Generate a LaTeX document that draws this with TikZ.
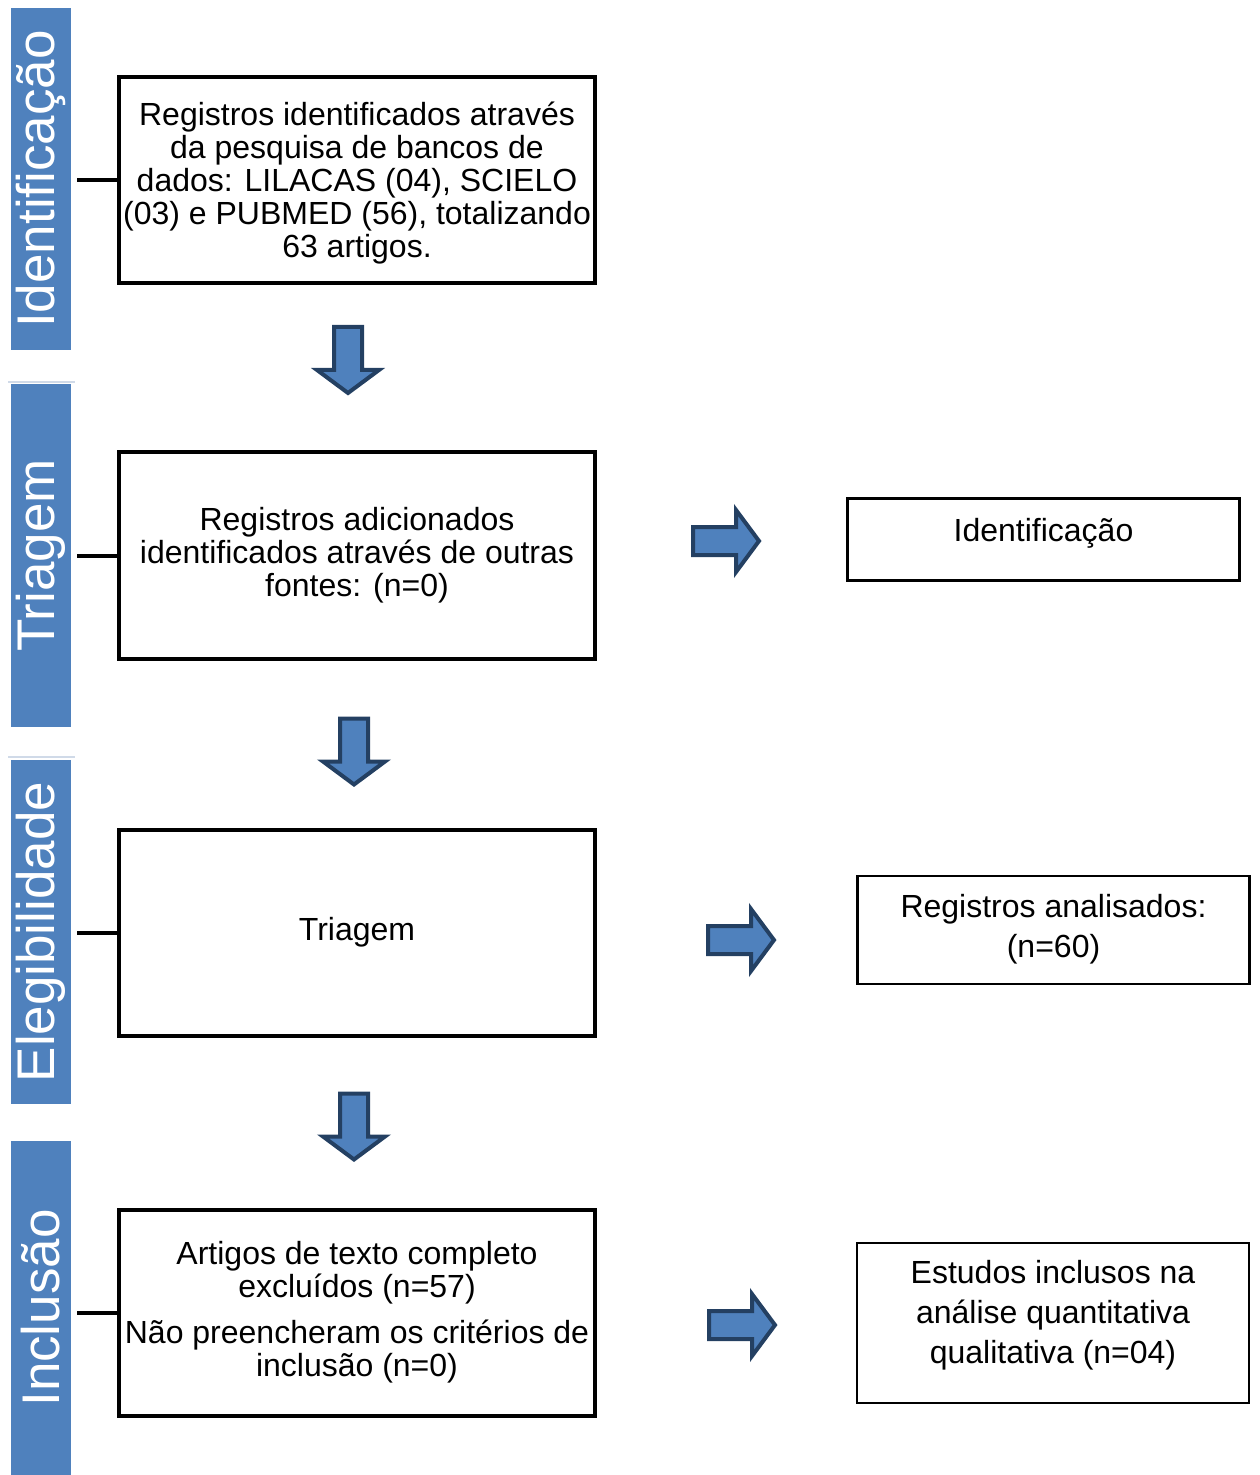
\documentclass[tikz,border=0pt]{standalone}
\usepackage{fontspec}
\setmainfont{Liberation Sans}
\usetikzlibrary{positioning}
\definecolor{barblue}{RGB}{79,129,189}
\definecolor{arrowedge}{RGB}{36,64,98}
\definecolor{faintline}{RGB}{208,218,232}
\tikzset{
  phase/.style={fill=barblue, text=white, rotate=90, inner sep=0pt,
    minimum height=30pt, font=\fontsize{26.5}{28}\selectfont},
  stepbox/.style={draw, line width=2pt, minimum width=238pt, minimum height=103pt,
    align=center, inner sep=0pt, font=\fontsize{16}{16.5}\selectfont},
  outbox/.style={draw, line width=1.3pt, minimum width=196pt, inner sep=0pt},
  outtext/.style={align=center, inner sep=0pt, font=\fontsize{16}{20}\selectfont},
  link/.style={line width=2pt, shorten >=3pt},
  blockarrow/.pic={
    \draw[fill=barblue, draw=arrowedge, line width=2pt, line join=miter]
      (-14,-33) -- (14,-33) -- (14,10) -- (31,10) -- (0,33)
      -- (-31,10) -- (-14,10) -- cycle;
  }
}

\begin{document}
\begin{tikzpicture}[x=0.5pt,y=-0.5pt]
\useasboundingbox (0,0) rectangle (1259,1475);
% phases on the left
\node[phase, minimum width=171pt] (barId) at (41,179) {Identificação};
\node[phase, minimum width=171.5pt] (barTri) at (41,555.5) {Triagem};
\node[phase, minimum width=172pt] (barEle) at (41,932) {Elegibilidade};
\node[phase, minimum width=167pt] (barInc) at (41,1308) {Inclusão};
\draw[faintline, line width=1pt] (8,382) -- (75,382);
\draw[faintline, line width=1pt] (8,757) -- (75,757);

% main column
\node[stepbox, text depth=-1.5pt] (regs) at (357,180) {Registros identificados através\\
  da pesquisa de bancos de\\ dados: LILACAS (04), SCIELO\\
  (03) e PUBMED (56), totalizando\\ 63 artigos.};
\node[stepbox] (extra) at (357,555.5) {Registros adicionados\\
  identificados através de outras\\ fontes: (n=0)};
\node[stepbox] (triag) at (357,932.5) {Triagem};
\node[stepbox] (excl) at (357,1312.5) {Artigos de texto completo\\
  excluídos (n=57)\\[6.5pt] Não preencheram os critérios de\\ inclusão (n=0)};

\foreach \b/\s in {regs/barId, extra/barTri, triag/barEle, excl/barInc}
  \draw[link] (\b.west) -- (\b.west -| \s.south);

% block arrows
\pic at (348,360) {blockarrow};
\pic at (354,751.5) {blockarrow};
\pic at (354,1126.5) {blockarrow};
\pic[rotate=90] at (726,541) {blockarrow};
\pic[rotate=90] at (741,940) {blockarrow};
\pic[rotate=90] at (742,1325) {blockarrow};

% right column
\node[outbox, minimum height=41pt] (idbox) at (1043.5,539.5) {};
\node[outtext] (idtxt) at ([yshift=3pt]idbox.center) {Identificação};
\node[outbox, minimum height=54pt] (anbox) at (1053.5,930) {};
\node[outtext] (antxt) at ([yshift=0.5pt]anbox.center) {Registros analisados:\\ (n=60)};
\node[outbox, minimum height=80pt] (inbox) at (1053,1323) {};
\node[outtext] (intxt) at ([yshift=4pt]inbox.center) {Estudos inclusos na\\
  análise quantitativa\\ qualitativa (n=04)};
\end{tikzpicture}
\end{document}
